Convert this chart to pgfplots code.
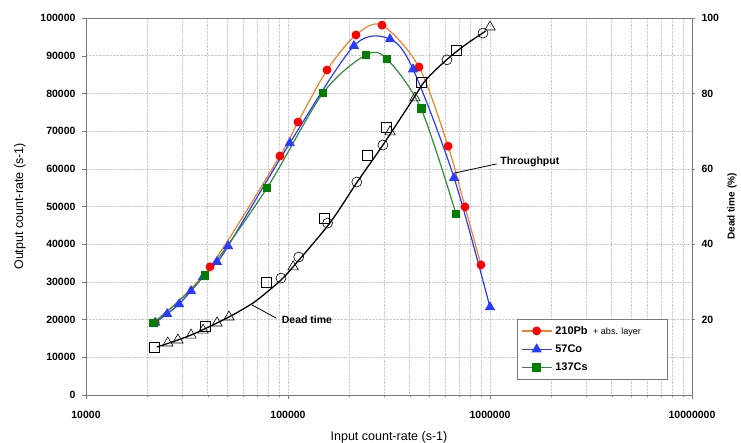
\documentclass[border=0pt]{standalone}
\usepackage{fontspec}
\setmainfont{Liberation Sans}
\usepackage{pgfplots}
\pgfplotsset{compat=1.18}
\definecolor{pborange}{RGB}{240,130,40}
\definecolor{pbred}{RGB}{255,0,0}
\definecolor{coblue}{RGB}{40,60,255}
\definecolor{csgreen}{RGB}{50,140,60}
\definecolor{csfill}{RGB}{0,128,0}
\definecolor{axgray}{RGB}{120,120,120}
\begin{document}
\begin{tikzpicture}[x=1pt,y=1pt]
\path[use as bounding box] (-86,-48) rectangle (655,395);
\begin{axis}[
  at={(0,0)}, anchor=south west, scale only axis,
  width=606pt, height=377pt,
  xmode=log, xmin=1e4, xmax=1e7, ymin=0, ymax=100000,
  scaled y ticks=false,
  xtick={1e4,1e5,1e6,1e7},
  xticklabels={10000,100000,1000000,10000000},
  minor xtick={2e4,3e4,4e4,5e4,6e4,7e4,8e4,9e4,2e5,3e5,4e5,5e5,6e5,7e5,8e5,9e5,2e6,3e6,4e6,5e6,6e6,7e6,8e6,9e6},
  ytick={0,10000,20000,30000,40000,50000,60000,70000,80000,90000,100000},
  yticklabels={0,10000,20000,30000,40000,50000,60000,70000,80000,90000,100000},
  xtick pos=bottom, ytick pos=left,
  tick align=outside, major tick length=4pt, minor tick length=2.5pt,
  xmajorgrids, xminorgrids, ymajorgrids,
  grid style={densely dotted, gray!40},
  minor grid style={densely dotted, gray!40},
  axis line style={axgray},
  tick style={axgray},
  ticklabel style={font=\bfseries\fontsize{10.5}{12}\selectfont},
  xticklabel style={yshift=-9pt},
  yticklabel style={xshift=-3pt},
  xlabel={Input count-rate (s-1)},
  ylabel={Output count-rate (s-1)},
  label style={font=\fontsize{12.5}{14}\selectfont},
  xlabel style={at={(axis description cs:0.5,-0.113)}, anchor=center},
  ylabel style={at={(axis description cs:-0.109,0.5)}, anchor=center},
  legend image code/.code={\draw[mark repeat=2, mark phase=2, #1] plot coordinates {(0pt,0pt) (15pt,0pt) (30pt,0pt)};},
  legend style={at={(rel axis cs:0.711,0.2016)}, anchor=north west,
    draw=axgray, font=\bfseries\fontsize{11}{13}\selectfont,
    inner xsep=4pt, inner ysep=5pt, row sep=5pt,
    /tikz/every odd column/.append style={column sep=1pt}},
  legend cell align=left,
]
\addplot[pborange, line width=1.2pt, smooth, mark=*, mark size=3.8pt,
  mark options={draw=pbred, fill=pbred}] coordinates {
 (22000,19200) (41100,34000) (91200,63400) (112000,72400) (156000,86200)
 (217000,95500) (292000,98100) (445000,87000) (620000,66000)
 (752000,49900) (902000,34500)};
\addlegendentry{210Pb {\mdseries\fontsize{9}{10}\selectfont\ + abs. layer}\rule{20pt}{0pt}}
\addplot[coblue, line width=1.2pt, smooth, mark=triangle*, mark size=4.8pt,
  mark options={draw=coblue, fill=coblue}] coordinates {
 (22000,19200) (25200,21500) (28900,24100) (33100,27600) (38000,31300)
 (44500,35300) (50500,39500) (102000,66800) (212000,92600) (320000,94400)
 (416000,86400) (664000,57600) (1000000,23300)};
\addlegendentry{57Co}
\addplot[csgreen, line width=1.2pt, smooth, mark=square*, mark size=3.8pt,
  mark options={draw=csfill, fill=csfill}] coordinates {
 (21500,19100) (38800,31800) (78700,54900) (149000,80100) (243000,90200)
 (309000,89100) (456000,75900) (679000,48000)};
\addlegendentry{137Cs}
\draw[black, thick] (axis cs:671000,58900) -- (axis cs:1080000,61300);
\node[anchor=west, font=\bfseries\fontsize{10.5}{12}\selectfont, inner sep=1pt] at (axis cs:1110000,61800) {Throughput};
\draw[black, thick] (axis cs:66300,23900) -- (axis cs:87300,20400);
\node[anchor=west, font=\bfseries\fontsize{10.5}{12}\selectfont, inner sep=1pt] at (axis cs:92000,19900) {Dead time};
\end{axis}
\begin{axis}[
  at={(0,0)}, anchor=south west, scale only axis,
  width=606pt, height=377pt,
  xmode=log, xmin=1e4, xmax=1e7, ymin=0, ymax=100,
  axis x line=none, axis y line*=right,
  ytick={20,40,60,80,100},
  yticklabels={20,40,60,80,100},
  tick align=outside, major tick length=3pt,
  axis line style={axgray}, tick style={axgray},
  ticklabel style={font=\bfseries\fontsize{10.5}{12}\selectfont},
  yticklabel style={xshift=3pt},
  ylabel={Dead time (\%)},
  ylabel style={at={(axis description cs:1.066,0.5)}, anchor=center, rotate=0, font=\bfseries\fontsize{10}{12}\selectfont},
]
\addplot[black, line width=1.3pt, smooth, tension=0.5] coordinates {
 (22400,12.7) (33100,15.9) (51000,20.7) (67100,24.4) (78700,27.3)
 (92300,30.5) (106000,34) (161000,45.6) (220000,56.5) (295000,66.3)
 (416000,78.5) (480000,83.5) (612000,89) (760000,93) (950000,96.5)};
\addplot[only marks, mark=square, mark size=5pt, mark options={black, line width=0.6pt}] coordinates {
 (21700,12.7) (38800,18.3) (77800,30.0) (151000,47.0) (246000,63.7)
 (305000,71.1) (456000,83.0) (679000,91.5)};
\addplot[only marks, mark=o, mark size=5pt, mark options={black, line width=0.6pt}] coordinates {
 (92300,31.0) (113000,36.6) (157000,45.6) (219000,56.5) (295000,66.3)
 (612000,88.9) (923000,96.0)};
\addplot[only marks, mark=triangle, mark size=6pt, mark options={black, line width=0.6pt}] coordinates {
 (25400,13.8) (28500,14.6) (33100,15.9) (38000,17.2) (44500,19.1) (51000,20.7)
 (106000,34.0) (320000,69.8) (425000,78.8) (1000000,97.6)};
\end{axis}
\end{tikzpicture}
\end{document}
